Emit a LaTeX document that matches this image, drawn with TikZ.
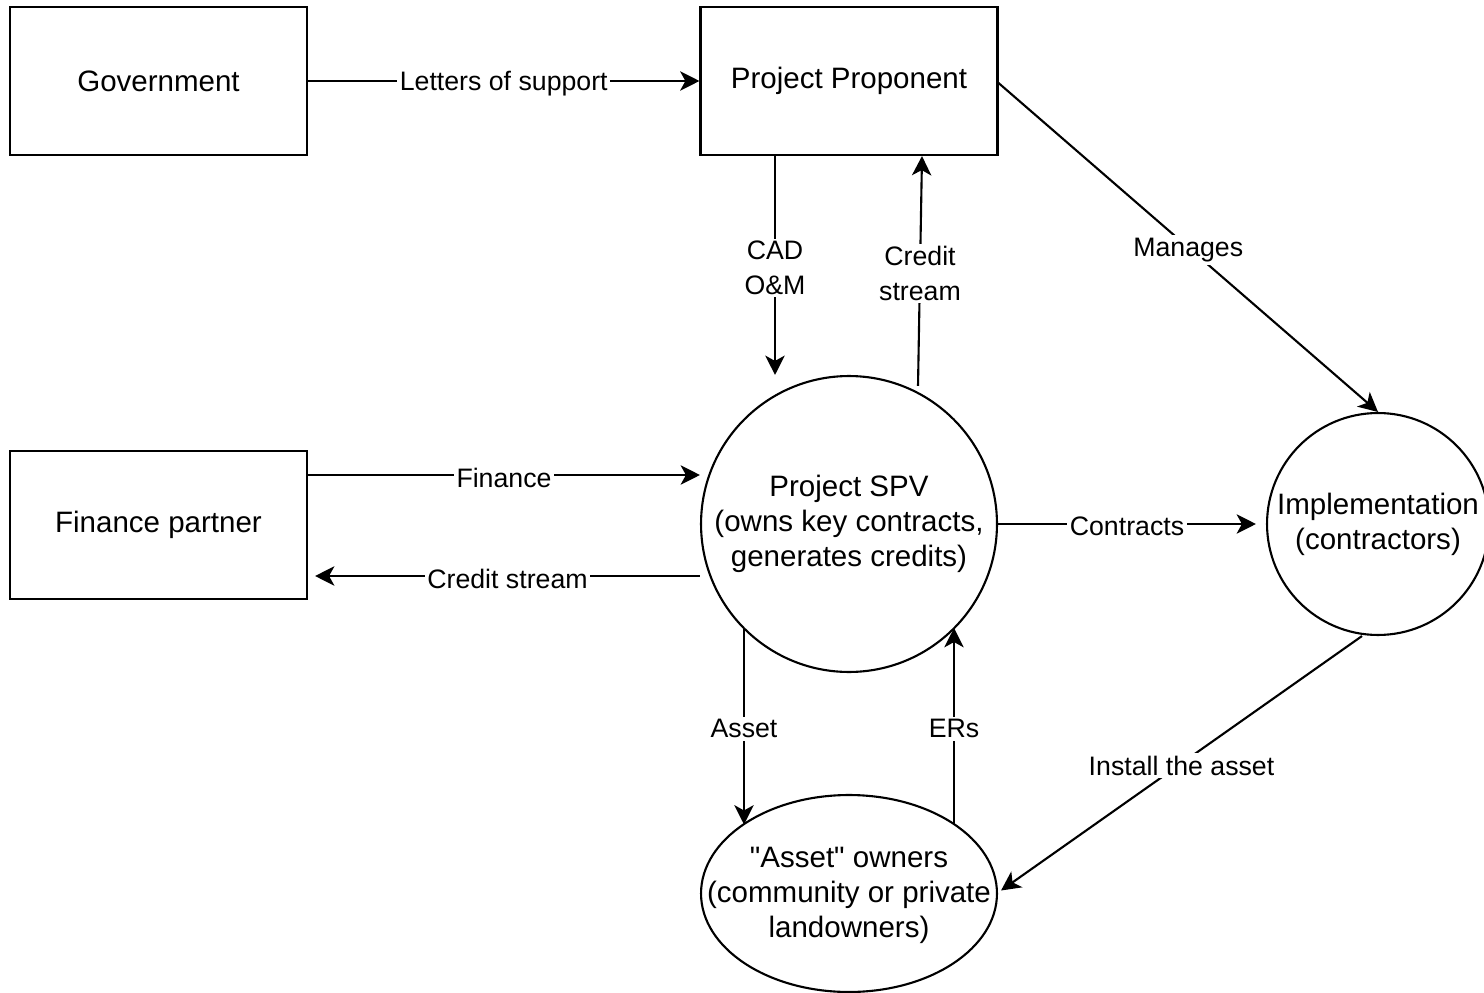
\documentclass[tikz,border=0pt]{standalone}
\usepackage{fontspec}
\setmainfont{Liberation Sans}[Ligatures=TeXOff]
\usetikzlibrary{arrows.meta,calc,shapes.geometric}
\tikzset{
  boxnode/.style={draw, line width=1.2pt, rectangle, minimum width=5.94cm, minimum height=2.96cm, inner sep=0pt, align=center, font=\fontsize{16.8}{19.8}\selectfont},
  circnode/.style={draw, line width=1.2pt, circle, inner sep=0pt, align=center, font=\fontsize{16.8}{19.8}\selectfont},
  ellnode/.style={draw, line width=1.2pt, ellipse, inner sep=0pt},
  txtnode/.style={inner sep=0pt, align=center, font=\fontsize{16.8}{19.8}\selectfont},
  lbl/.style={fill=white, inner sep=1.5pt, align=center, yshift=-0.05cm, font=\fontsize{15.2}{19.8}\selectfont},
  arr/.style={line width=1.2pt, -{Stealth[length=11pt, width=11pt, inset=3pt]}},
}
\begin{document}
\begin{tikzpicture}[x=0.02cm, y=-0.02cm]
\useasboundingbox (0,0) rectangle (1484,993);
\clip (0,0) rectangle (1484,993);
\fill[white] (0,0) rectangle (1484,993);

\node[boxnode] (gov) at (158.5,81) {Government};
\node[boxnode] (pp) at (849,81) {Project Proponent};
\node[boxnode] (fp) at (158.5,525) {Finance partner};
\node[circnode, minimum size=5.92cm] (spv) at (849,524) {Project SPV\\(owns key contracts,\\generates credits)};
\node[circnode, minimum size=4.44cm] (impl) at (1378,524) {Implementation\\(contractors)};
\node[ellnode, minimum width=5.92cm, minimum height=3.94cm] (ao) at (849,893.5) {};
\node[txtnode] (aotext) at ($(ao.center)+(0,2)$) {"Asset" owners\\(community or private\\landowners)};

\draw[arr] (gov.east) -- node[lbl] {Letters of support} (pp.west);
\draw[arr] ($(pp.south)+(-74,0)$) -- node[lbl] {CAD\\O\&M} ($(spv.north)+(-74,0)$);
\draw[arr] ($(spv.north)+(69,11)$) -- node[lbl] {Credit\\stream} ($(pp.south)+(73,0)$);
\draw[arr] ($(pp.east)+(0,2)$) -- node[lbl] {Manages} (impl.north);
\draw[arr] ($(fp.east)+(0,-50)$) -- node[lbl] {Finance} ($(spv.west)+(0,-49)$);
\draw[arr] ($(spv.west)+(0,52)$) -- node[lbl] {Credit stream} ($(fp.east)+(7,51)$);
\draw[arr] (spv.east) -- node[lbl] {Contracts} ($(impl.west)+(-10,0)$);
\draw[arr] ($(spv.center)+(-105,104)$) -- node[lbl] {Asset} ($(ao.center)+(-105,-69)$);
\draw[arr] ($(ao.center)+(105,-69)$) -- node[lbl] {ERs} ($(spv.center)+(105,104)$);
\draw[arr] ($(impl.south)+(-16,0)$) -- node[lbl] {Install the asset} ($(ao.east)+(3,-3)$);
\end{tikzpicture}
\end{document}
